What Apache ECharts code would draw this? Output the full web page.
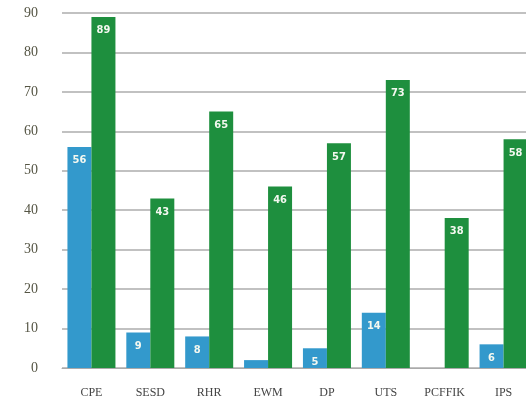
<!DOCTYPE html>
<html>
<head>
<meta charset="utf-8">
<script src="https://cdn.jsdelivr.net/npm/echarts@6/dist/echarts.min.js"></script>
<style>
  html, body { margin: 0; padding: 0; background: #fff; overflow: hidden; }
  /* the canvas is a little wider than the window, so the last bar is cut at the edge */
  #chart { width: 540px; height: 403px; }
</style>
</head>
<body>
<div id="chart"></div>
<script>
// Category codes along the x axis
const categories = ['CPE', 'SESD', 'RHR', 'EWM', 'DP', 'UTS', 'PCFFIK', 'IPS'];
// First series (blue) and second series (green)
const blueValues = [56, 9, 8, 2, 5, 14, null, 6];
const greenValues = [89, 43, 65, 46, 57, 73, 38, 58];
// Value axis ticks
const yTicks = [0, 10, 20, 30, 40, 50, 60, 70, 80, 90];

const labelStyle = {
  show: true,
  position: 'insideTop',
  distance: 8,
  color: '#f4f8f0',
  fontFamily: 'DejaVu Sans Condensed, DejaVu Sans',
  fontWeight: 'bold',
  fontSize: 11,
  formatter: p => p.value
};

const chart = echarts.init(document.getElementById('chart'), null, { renderer: 'canvas' });
chart.setOption({
  animation: false,
  backgroundColor: '#ffffff',
  grid: { left: 62, right: 7, top: 13, bottom: 35, containLabel: false },
  xAxis: {
    type: 'category',
    data: categories,
    axisLine: { show: true, lineStyle: { color: '#aaaaaa', width: 1 } },
    axisTick: { show: false },
    axisLabel: {
      color: '#444444',
      fontFamily: 'Liberation Serif',
      fontSize: 12,
      margin: 19
    }
  },
  yAxis: {
    type: 'value',
    min: yTicks[0],
    max: yTicks[yTicks.length - 1],
    interval: 10,
    axisLine: { show: false },
    axisTick: { show: false },
    splitLine: { lineStyle: { color: '#adadad', width: 1.5 } },
    axisLabel: {
      color: '#555544',
      fontFamily: 'Liberation Serif',
      fontSize: 14,
      margin: 24
    }
  },
  series: [
    {
      type: 'bar',
      data: blueValues.map(v => (v !== null && v < 4) ? { value: v, label: { show: false } } : v),
      barWidth: 24,
      barGap: '0%',
      itemStyle: { color: '#3399cc' },
      label: labelStyle
    },
    {
      type: 'bar',
      data: greenValues,
      barWidth: 24,
      barGap: '0%',
      itemStyle: { color: '#1e8f3e' },
      label: labelStyle
    }
  ]
});
</script>
</body>
</html>
